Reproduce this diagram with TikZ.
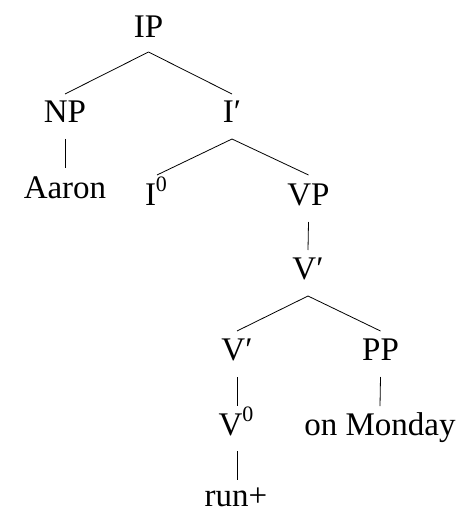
\documentclass[tikz,border=0pt]{standalone}
\usepackage{fontspec}
\setmainfont{Liberation Serif}
\newcommand{\supz}{\raisebox{0.42em}{\fontsize{22}{22}\selectfont 0}}
\begin{document}
\begin{tikzpicture}[x=1pt,y=-1pt,
  lbl/.style={anchor=base,inner sep=0pt,font=\fontsize{33}{36}\selectfont},
  br/.style={line width=0.8pt}]
\useasboundingbox (0,0) rectangle (471,513);
\node[lbl] (IP) at (148.5,38) {IP};
\node[lbl] (NP) at (65,123) {NP};
\node[lbl] (Ib) at (232,123) {I′};
\node[lbl] (Aaron) at (65,198) {Aaron};
\node[lbl] (I0) at (156,205) {I\supz};
\node[lbl] (VP) at (308.5,205) {VP};
\node[lbl] (Vb) at (308,279) {V′};
\node[lbl] (Vb2) at (237,360) {V′};
\node[lbl] (PP) at (380.5,360) {PP};
\node[lbl] (V0) at (236,435) {V\supz};
\node[lbl] (Mon) at (380,435) {on Monday};
\node[lbl] (run) at (236,506) {run+};
\draw[br] ([yshift=-14pt]IP.base) -- ([yshift=29pt]NP.base);
\draw[br] ([yshift=-14pt]IP.base) -- ([yshift=29pt]Ib.base);
\draw[br] ([yshift=-16pt]NP.base) -- ([yshift=30pt]Aaron.base);
\draw[br] ([yshift=-16pt]Ib.base) -- ([yshift=30pt,xshift=1pt]I0.base);
\draw[br] ([yshift=-16pt]Ib.base) -- ([yshift=30pt]VP.base);
\draw[br] ([yshift=-17pt]VP.base) -- ([yshift=29pt]Vb.base);
\draw[br] ([yshift=-17pt]Vb.base) -- ([yshift=29pt]Vb2.base);
\draw[br] ([yshift=-17pt]Vb.base) -- ([yshift=29pt]PP.base);
\draw[br] ([yshift=-17pt]Vb2.base) -- ([yshift=29pt,xshift=1pt]V0.base);
\draw[br] ([yshift=-17pt]PP.base) -- ([yshift=29pt]Mon.base);
\draw[br] ([yshift=-16pt,xshift=1pt]V0.base) -- ([yshift=26pt,xshift=1pt]run.base);
\end{tikzpicture}
\end{document}
